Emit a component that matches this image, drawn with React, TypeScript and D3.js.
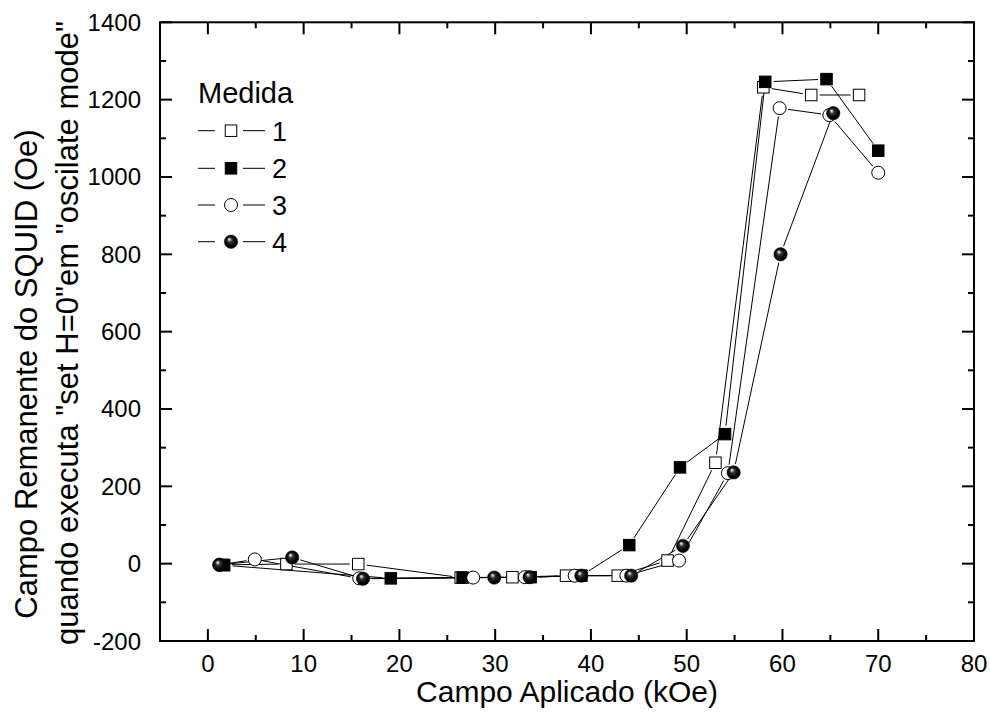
import React from "react";
import * as d3 from "d3";

// ---- data ----
const s1X = [1.6, 8.2, 15.7, 26.4, 31.8, 37.4, 42.8, 48.0, 53.0, 58.0, 63.0, 68.0];
const s1Y = [-3, -1, -1, -36, -35, -31, -31, 8, 261, 1232, 1212, 1212];
const s2X = [1.7, 19.1, 26.6, 33.7, 39.0, 44.0, 49.3, 54.0, 58.2, 64.6, 70.0];
const s2Y = [-4, -38, -36, -35, -31, 48, 249, 335, 1246, 1253, 1068];
const s3X = [1.2, 4.9, 15.8, 27.7, 33.1, 38.3, 43.7, 49.2, 54.3, 59.7, 64.9, 70.0];
const s3Y = [-3, 11, -38, -36, -35, -31, -31, 8, 234, 1178, 1160, 1011];
const s4X = [1.2, 8.8, 16.2, 29.9, 33.6, 39.0, 44.2, 49.6, 54.9, 59.8, 65.3];
const s4Y = [-3, 16, -39, -36, -35, -31, -31, 46, 236, 800, 1165];

const seriesNames = ["1", "2", "3", "4"];
const seriesSymbols = ["openSquare", "filledSquare", "openCircle", "sphere"];

const xMajor = [0, 10, 20, 30, 40, 50, 60, 70, 80];
const xMinor = [-5, 5, 15, 25, 35, 45, 55, 65, 75];
const yMajor = [-200, 0, 200, 400, 600, 800, 1000, 1200, 1400];
const yMinor = [-100, 100, 300, 500, 700, 900, 1100, 1300];

const xTitle = "Campo Aplicado (kOe)";
const yTitle1 = "Campo Remanente do SQUID (Oe)";
const yTitle2 = 'quando executa "set H=0"em "oscilate mode"';
const legendTitle = "Medida";

const W = 990, H = 725;
const left = 160, right = 974, top = 22.3, bottom = 641;
const FONT = "'Liberation Sans', Arial, Helvetica, sans-serif";

function Marker({ kind, x, y }: { kind: string; x: number; y: number }) {
  const s = 11.5;
  if (kind === "openSquare")
    return <rect x={x - s / 2} y={y - s / 2} width={s} height={s} fill="#fff" stroke="#000" strokeWidth={1} />;
  if (kind === "filledSquare")
    return <rect x={x - s / 2} y={y - s / 2} width={s} height={s} fill="#000" stroke="#000" strokeWidth={1} />;
  if (kind === "openCircle")
    return <circle cx={x} cy={y} r={6.5} fill="#fff" stroke="#000" strokeWidth={1} />;
  return <circle cx={x} cy={y} r={6.7} fill="url(#sph)" stroke="#000" strokeWidth={0.5} />;
}

export default function App() {
  const x = d3.scaleLinear().domain([-5, 80]).range([left, right]);
  const y = d3.scaleLinear().domain([-200, 1400]).range([bottom, top]);

  const series = [
    { xs: s1X, ys: s1Y },
    { xs: s2X, ys: s2Y },
    { xs: s3X, ys: s3Y },
    { xs: s4X, ys: s4Y },
  ];

  const gap = 8.5;
  const segs: { x1: number; y1: number; x2: number; y2: number; k: string }[] = [];
  series.forEach((s, si) => {
    for (let i = 0; i < s.xs.length - 1; i++) {
      const ax = x(s.xs[i]), ay = y(s.ys[i]);
      const bx = x(s.xs[i + 1]), by = y(s.ys[i + 1]);
      const d = Math.hypot(bx - ax, by - ay);
      if (d <= 2 * gap) continue;
      const ux = (bx - ax) / d, uy = (by - ay) / d;
      segs.push({ x1: ax + ux * gap, y1: ay + uy * gap, x2: bx - ux * gap, y2: by - uy * gap, k: `${si}-${i}` });
    }
  });

  const line = d3.line();
  const majLen = 12, minLen = 6;

  const legendRows = [130.7, 168.3, 205, 241.7];

  return (
    <svg width={W} height={H} style={{ position: "absolute", left: 0, top: 0, background: "#fff" }} fontFamily={FONT}>
      <defs>
        <radialGradient id="sph" cx="0.5" cy="0.5" r="0.5" fx="0.35" fy="0.3">
          <stop offset="0" stopColor="#ffffff" />
          <stop offset="0.13" stopColor="#bbbbbb" />
          <stop offset="0.35" stopColor="#333333" />
          <stop offset="0.7" stopColor="#080808" />
          <stop offset="1" stopColor="#000000" />
        </radialGradient>
      </defs>
      <rect x={0} y={0} width={W} height={H} fill="#fff" />

      {/* ticks */}
      {xMajor.map((v) => (
        <g key={"xM" + v}>
          <line x1={x(v)} x2={x(v)} y1={bottom} y2={bottom - majLen} stroke="#000" strokeWidth={2} />
          <line x1={x(v)} x2={x(v)} y1={top} y2={top + majLen} stroke="#000" strokeWidth={2} />
          <text x={x(v)} y={672} textAnchor="middle" fontSize={24}>{v}</text>
        </g>
      ))}
      {xMinor.map((v) => (
        <g key={"xm" + v}>
          <line x1={x(v)} x2={x(v)} y1={bottom} y2={bottom - minLen} stroke="#000" strokeWidth={2} />
          <line x1={x(v)} x2={x(v)} y1={top} y2={top + minLen} stroke="#000" strokeWidth={2} />
        </g>
      ))}
      {yMajor.map((v) => (
        <g key={"yM" + v}>
          <line x1={left} x2={left + majLen} y1={y(v)} y2={y(v)} stroke="#000" strokeWidth={2} />
          <line x1={right} x2={right - majLen} y1={y(v)} y2={y(v)} stroke="#000" strokeWidth={2} />
          <text x={141} y={y(v) + 8.5} textAnchor="end" fontSize={24}>{v}</text>
        </g>
      ))}
      {yMinor.map((v) => (
        <g key={"ym" + v}>
          <line x1={left} x2={left + minLen} y1={y(v)} y2={y(v)} stroke="#000" strokeWidth={2} />
          <line x1={right} x2={right - minLen} y1={y(v)} y2={y(v)} stroke="#000" strokeWidth={2} />
        </g>
      ))}

      {/* frame */}
      <rect x={left} y={top} width={right - left} height={bottom - top} fill="none" stroke="#000" strokeWidth={2} />

      {/* series lines */}
      {segs.map((s) => (
        <path key={s.k} d={line([[s.x1, s.y1], [s.x2, s.y2]]) || ""} stroke="#000" strokeWidth={1} fill="none" />
      ))}
      {/* markers */}
      {series.map((s, si) =>
        s.xs.map((xv, i) => <Marker key={`m${si}-${i}`} kind={seriesSymbols[si]} x={x(xv)} y={y(s.ys[i])} />)
      )}

      {/* legend */}
      <text x={198} y={103} fontSize={29}>{legendTitle}</text>
      {seriesNames.map((n, i) => (
        <g key={"lg" + n}>
          <line x1={198} x2={215} y1={legendRows[i]} y2={legendRows[i]} stroke="#000" strokeWidth={1} />
          <line x1={243} x2={265} y1={legendRows[i]} y2={legendRows[i]} stroke="#000" strokeWidth={1} />
          <Marker kind={seriesSymbols[i]} x={231} y={legendRows[i]} />
          <text x={272} y={legendRows[i] + 10} fontSize={27}>{n}</text>
        </g>
      ))}

      {/* axis titles */}
      <text x={(left + right) / 2} y={702} textAnchor="middle" fontSize={30}>{xTitle}</text>
      <text transform={`translate(37, 374) rotate(-90)`} textAnchor="middle" fontSize={31}>{yTitle1}</text>
      <text transform={`translate(78, 333) rotate(-90)`} textAnchor="middle" fontSize={31}>{yTitle2}</text>
    </svg>
  );
}
